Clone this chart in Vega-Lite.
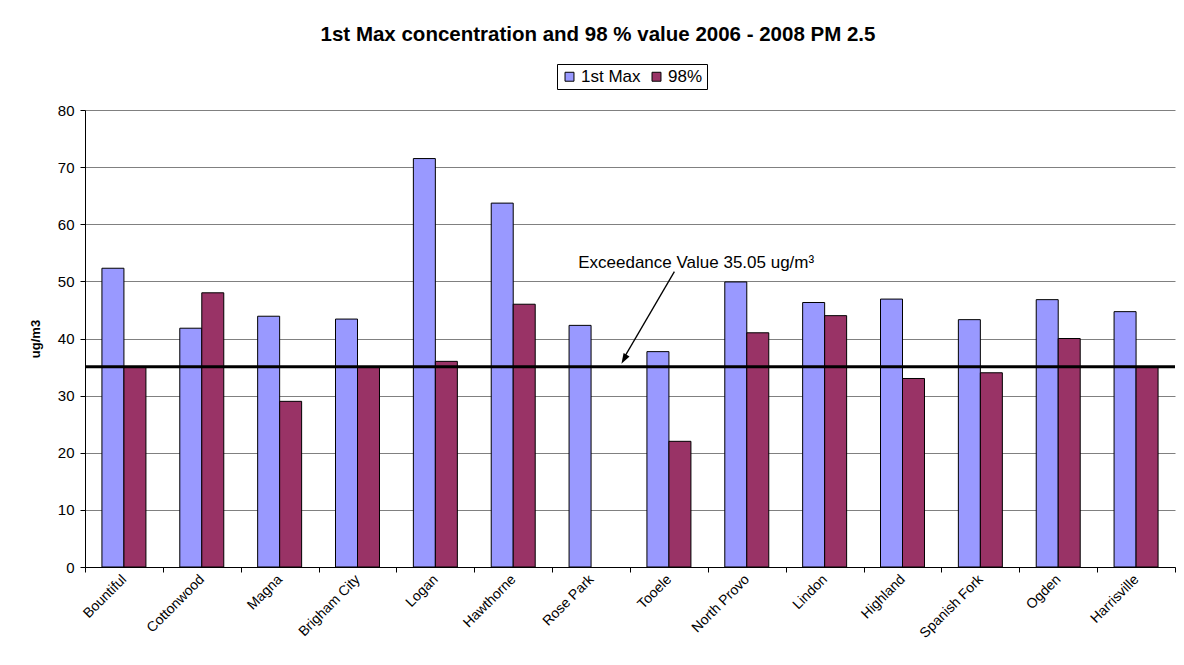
{
  "$schema": "https://vega.github.io/schema/vega-lite/v6.json",
  "width": 1090,
  "height": 457,
  "autosize": {"type": "none"},
  "padding": {"left": 85, "top": 110, "right": 9, "bottom": 98},
  "background": "white",
  "title": {
    "text": "1st Max concentration and 98 % value 2006 - 2008 PM 2.5",
    "font": "Liberation Sans",
    "fontSize": 20.5,
    "fontWeight": "bold",
    "color": "black",
    "anchor": "middle",
    "dx": -32,
    "offset": 18
  },
  "config": {
    "font": "Liberation Sans",
    "view": {"stroke": null},
    "axis": {
      "labelFont": "Liberation Sans",
      "titleFont": "Liberation Sans",
      "labelColor": "black",
      "titleColor": "black",
      "domainColor": "black",
      "tickColor": "black"
    }
  },
  "resolve": {"scale": {"x": "independent"}},
  "layer": [
    {
      "data": {
        "values": [
          {"site": "Bountiful", "series": "1st Max", "value": 52.3},
          {"site": "Bountiful", "series": "98%", "value": 35},
          {"site": "Cottonwood", "series": "1st Max", "value": 41.8},
          {"site": "Cottonwood", "series": "98%", "value": 48},
          {"site": "Magna", "series": "1st Max", "value": 43.9},
          {"site": "Magna", "series": "98%", "value": 29},
          {"site": "Brigham City", "series": "1st Max", "value": 43.4},
          {"site": "Brigham City", "series": "98%", "value": 35},
          {"site": "Logan", "series": "1st Max", "value": 71.5},
          {"site": "Logan", "series": "98%", "value": 36},
          {"site": "Hawthorne", "series": "1st Max", "value": 63.7},
          {"site": "Hawthorne", "series": "98%", "value": 46},
          {"site": "Rose Park", "series": "1st Max", "value": 42.3},
          {"site": "Tooele", "series": "1st Max", "value": 37.7},
          {"site": "Tooele", "series": "98%", "value": 22},
          {"site": "North Provo", "series": "1st Max", "value": 49.9},
          {"site": "North Provo", "series": "98%", "value": 41},
          {"site": "Lindon", "series": "1st Max", "value": 46.3},
          {"site": "Lindon", "series": "98%", "value": 44},
          {"site": "Highland", "series": "1st Max", "value": 46.9},
          {"site": "Highland", "series": "98%", "value": 33},
          {"site": "Spanish Fork", "series": "1st Max", "value": 43.3},
          {"site": "Spanish Fork", "series": "98%", "value": 34},
          {"site": "Ogden", "series": "1st Max", "value": 46.8},
          {"site": "Ogden", "series": "98%", "value": 40},
          {"site": "Harrisville", "series": "1st Max", "value": 44.7},
          {"site": "Harrisville", "series": "98%", "value": 35}
        ]
      },
      "mark": {"type": "bar", "stroke": "black", "strokeWidth": 1},
      "encoding": {
        "x": {
          "field": "site",
          "type": "nominal",
          "sort": null,
          "scale": {"paddingInner": 0, "paddingOuter": 0},
          "axis": {
            "title": null,
            "tickBand": "extent",
            "tickSize": 5,
            "labelAngle": -45,
            "labelAlign": "right",
            "labelBaseline": "middle",
            "labelFontSize": 14,
            "labelPadding": 5,
            "grid": false
          }
        },
        "xOffset": {
          "field": "series",
          "type": "nominal",
          "scale": {"domain": ["1st Max", "98%"], "paddingInner": 0, "paddingOuter": 0.77}
        },
        "y": {
          "field": "value",
          "type": "quantitative",
          "scale": {"domain": [0, 80], "nice": false},
          "axis": {
            "title": "ug/m3",
            "titleFontSize": 13,
            "titleFontWeight": "bold",
            "titlePadding": 15,
            "values": [0, 10, 20, 30, 40, 50, 60, 70, 80],
            "labelFontSize": 15,
            "labelPadding": 6,
            "tickSize": 5,
            "grid": true,
            "gridColor": "#808080",
            "gridWidth": 1,
            "gridOpacity": 1
          }
        },
        "color": {
          "field": "series",
          "type": "nominal",
          "scale": {"domain": ["1st Max", "98%"], "range": ["#9999FF", "#993366"]},
          "legend": {
            "title": null,
            "orient": "none",
            "direction": "horizontal",
            "legendX": 472,
            "legendY": -46,
            "strokeColor": "black",
            "fillColor": "white",
            "padding": 4,
            "symbolType": "square",
            "symbolSize": 80,
            "symbolStrokeColor": "black",
            "symbolStrokeWidth": 1,
            "symbolOpacity": 1,
            "labelFontSize": 17,
            "labelColor": "black",
            "labelFont": "Liberation Sans",
            "columnPadding": 7,
            "labelOffset": 3
          }
        }
      }
    },
    {
      "data": {"values": [{"limit": 35.05}]},
      "mark": {"type": "rule", "color": "black", "strokeWidth": 3},
      "encoding": {
        "y": {"field": "limit", "type": "quantitative"}
      }
    },
    {
      "data": {"values": [{"note": "Exceedance Value  35.05 ug/m³"}]},
      "encoding": {},
      "layer": [
        {
          "mark": {"type": "text", "fontSize": 17, "font": "Liberation Sans", "color": "black", "align": "center", "baseline": "middle"},
          "encoding": {
            "x": {"datum": 7.85, "type": "quantitative", "scale": {"domain": [0, 14], "nice": false, "zero": false}, "axis": null},
            "y": {"datum": 53.3, "type": "quantitative"},
            "text": {"field": "note"}
          }
        },
        {
          "mark": {"type": "rule", "color": "black", "strokeWidth": 1.3},
          "encoding": {
            "x": {"datum": 7.57, "type": "quantitative", "scale": {"domain": [0, 14], "nice": false, "zero": false}, "axis": null},
            "y": {"datum": 51.7, "type": "quantitative"},
            "x2": {"datum": 6.94},
            "y2": {"datum": 37.0}
          }
        },
        {
          "mark": {"type": "point", "shape": "M0,0L-0.6,-1.8L0.6,-1.8Z", "filled": true, "color": "black", "opacity": 1, "size": 130, "angle": 30},
          "encoding": {
            "x": {"datum": 6.89, "type": "quantitative", "scale": {"domain": [0, 14], "nice": false, "zero": false}, "axis": null},
            "y": {"datum": 35.6, "type": "quantitative"}
          }
        }
      ]
    }
  ]
}
